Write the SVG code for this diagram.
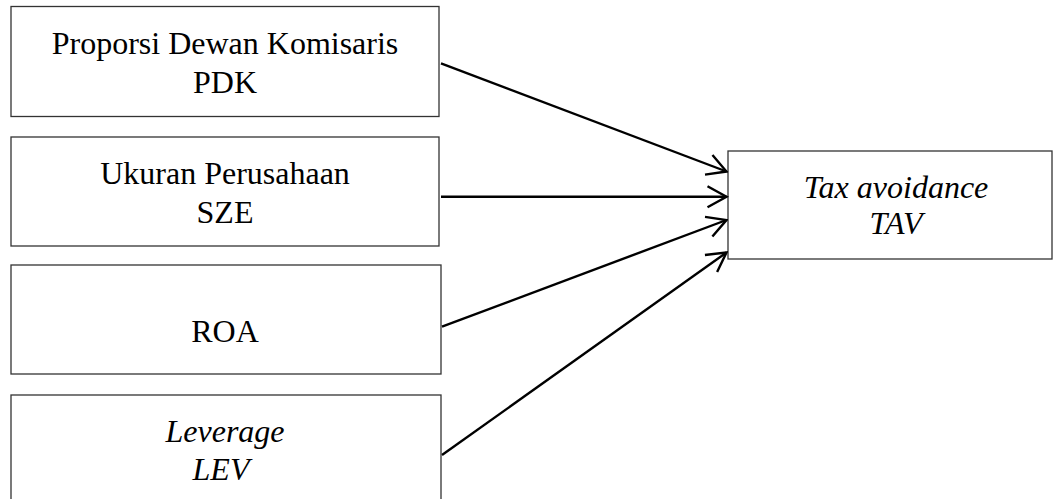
<svg xmlns="http://www.w3.org/2000/svg" width="1054" height="499" viewBox="0 0 1054 499">
  <style>
    .box { fill: #ffffff; stroke: #333333; stroke-width: 1.3; }
    .lbl { font-family: "Liberation Serif", "Times New Roman", serif; font-size: 32px; fill: #000000; text-anchor: middle; }
    .it { font-style: italic; }
    .conn { stroke: #000000; stroke-width: 2.4; fill: none; }
  </style>
  <defs>
    <marker id="arrow" markerUnits="userSpaceOnUse" viewBox="-22 -13 24 26" markerWidth="24" markerHeight="26" refX="0" refY="0" orient="auto">
      <path d="M-19,-10.5 L0,0 L-19,10.5" fill="none" stroke="#000000" stroke-width="2.4" stroke-linejoin="miter"/>
    </marker>
  </defs>
  <rect x="0" y="0" width="1054" height="499" fill="#ffffff"/>

  <g id="node-pdk">
    <rect class="box" x="11" y="6.5" width="428" height="110"/>
    <text class="lbl" x="225" y="54">Proporsi Dewan Komisaris</text>
    <text class="lbl" x="225" y="92.5">PDK</text>
  </g>
  <g id="node-sze">
    <rect class="box" x="11" y="137" width="428" height="109"/>
    <text class="lbl" x="225" y="184">Ukuran Perusahaan</text>
    <text class="lbl" x="225" y="223">SZE</text>
  </g>
  <g id="node-roa">
    <rect class="box" x="11" y="265" width="430" height="109"/>
    <text class="lbl" x="225" y="342">ROA</text>
  </g>
  <g id="node-lev">
    <rect class="box" x="11" y="395" width="430" height="110"/>
    <text class="lbl it" x="225" y="441.5">Leverage</text>
    <text class="lbl it" x="221" y="480">LEV</text>
  </g>
  <g id="node-tav">
    <rect class="box" x="728" y="151" width="324" height="108"/>
    <text class="lbl it" x="896" y="198">Tax avoidance</text>
    <text class="lbl it" x="896" y="234">TAV</text>
  </g>

  <g id="connectors">
    <line class="conn" x1="441" y1="63.3" x2="726.5" y2="171.5" marker-end="url(#arrow)"/>
    <line class="conn" x1="441" y1="196.7" x2="726.5" y2="196.7" marker-end="url(#arrow)"/>
    <line class="conn" x1="442" y1="326.7" x2="726.5" y2="220" marker-end="url(#arrow)"/>
    <line class="conn" x1="442" y1="455" x2="726.5" y2="252.5" marker-end="url(#arrow)"/>
  </g>
</svg>
